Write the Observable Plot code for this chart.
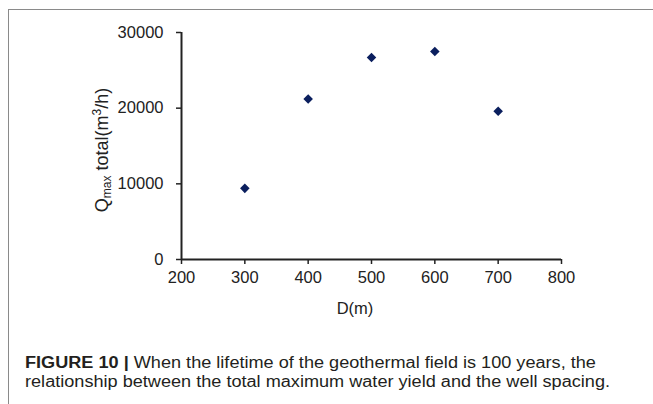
<!DOCTYPE html>
<html>
<head>
<meta charset="utf-8">
<script src="https://cdn.jsdelivr.net/npm/d3@7"></script>
<script src="https://cdn.jsdelivr.net/npm/@observablehq/plot@0.6"></script>
<style>
  html, body { margin: 0; padding: 0; background: #fff; width: 653px; height: 404px; overflow: hidden; }
  #frame { position: absolute; left: 8px; top: 9px; width: 660px; height: 420px; border-left: 1px solid #8a8a8a; border-top: 1px solid #8a8a8a; }
  #chart { position: absolute; left: 0; top: 0; }
  #caption { position: absolute; left: 25px; top: 353px; font-family: "Liberation Sans", Arial, sans-serif; font-size: 16px; line-height: 19px; color: #231f20; white-space: nowrap; transform-origin: 0 0; }
  #caption b { font-weight: bold; }
</style>
</head>
<body>
<div id="frame"></div>
<div id="chart"></div>
<div id="caption"><span id="l1"><b>FIGURE 10 |</b> When the lifetime of the geothermal field is 100 years, the</span><br><span id="l2">relationship between the total maximum water yield and the well spacing.</span></div>
<script>
const spacing = [300, 400, 500, 600, 700];            // D (m)
const qmaxTotal = [9400, 21200, 26700, 27500, 19600]; // Qmax total (m3/h)
const xTicks = [200, 300, 400, 500, 600, 700, 800];
const yTicks = [0, 10000, 20000, 30000];

const data = spacing.map((d, i) => ({ d, q: qmaxTotal[i] }));

const W = 653, H = 330;
const chart = Plot.plot({
  width: W,
  height: H,
  marginLeft: 181,
  marginRight: 92,
  marginTop: 32,
  marginBottom: 71,
  style: { fontFamily: "'Liberation Sans', Arial, sans-serif", fontSize: "16.5px", color: "#222", background: "transparent", overflow: "visible" },
  x: { domain: [200, 800] },
  y: { domain: [0, 30000] },
  marks: [
    Plot.axisX({ ticks: xTicks, tickSize: 5, tickPadding: 7, tickFormat: d => String(d), label: null, stroke: "#222", strokeWidth: 1.5, fill: "#222", fontSize: 16.5 }),
    Plot.axisY({ ticks: yTicks, tickSize: 5, tickPadding: 13, tickFormat: d => String(d), label: null, stroke: "#222", strokeWidth: 1.5, fill: "#222", fontSize: 16.5 }),
    Plot.ruleY([0], { stroke: "#222", strokeWidth: 2 }),
    Plot.ruleX([200], { stroke: "#222", strokeWidth: 2 }),
    Plot.dot(data, { x: "d", y: "q", symbol: "diamond2", r: 4.3, fill: "#0b1f5e", stroke: "none" })
  ]
});
document.getElementById("chart").appendChild(chart);

const svg = d3.select(chart);
// x axis title
svg.append("text")
  .attr("x", 355).attr("y", 314)
  .attr("text-anchor", "middle")
  .attr("font-size", 16.5).attr("fill", "#222")
  .text("D(m)");
// y axis title with subscript and superscript
const yl = svg.append("text")
  .attr("transform", "translate(108,150) rotate(-90)")
  .attr("text-anchor", "middle")
  .attr("font-size", 18).attr("fill", "#222");
yl.append("tspan").text("Q");
yl.append("tspan").attr("font-size", 12).attr("dy", 3).text("max");
yl.append("tspan").attr("dy", -3).text(" total(m");
yl.append("tspan").attr("font-size", 12).attr("dy", -7).text("3");
yl.append("tspan").attr("dy", 7).text("/h)");

// stretch caption so that line 2 spans like the reference
const l2 = document.getElementById("l2").getBoundingClientRect().width;
const s = 585 / l2;
document.getElementById("caption").style.transform = `scaleX(${s})`;
</script>
</body>
</html>
